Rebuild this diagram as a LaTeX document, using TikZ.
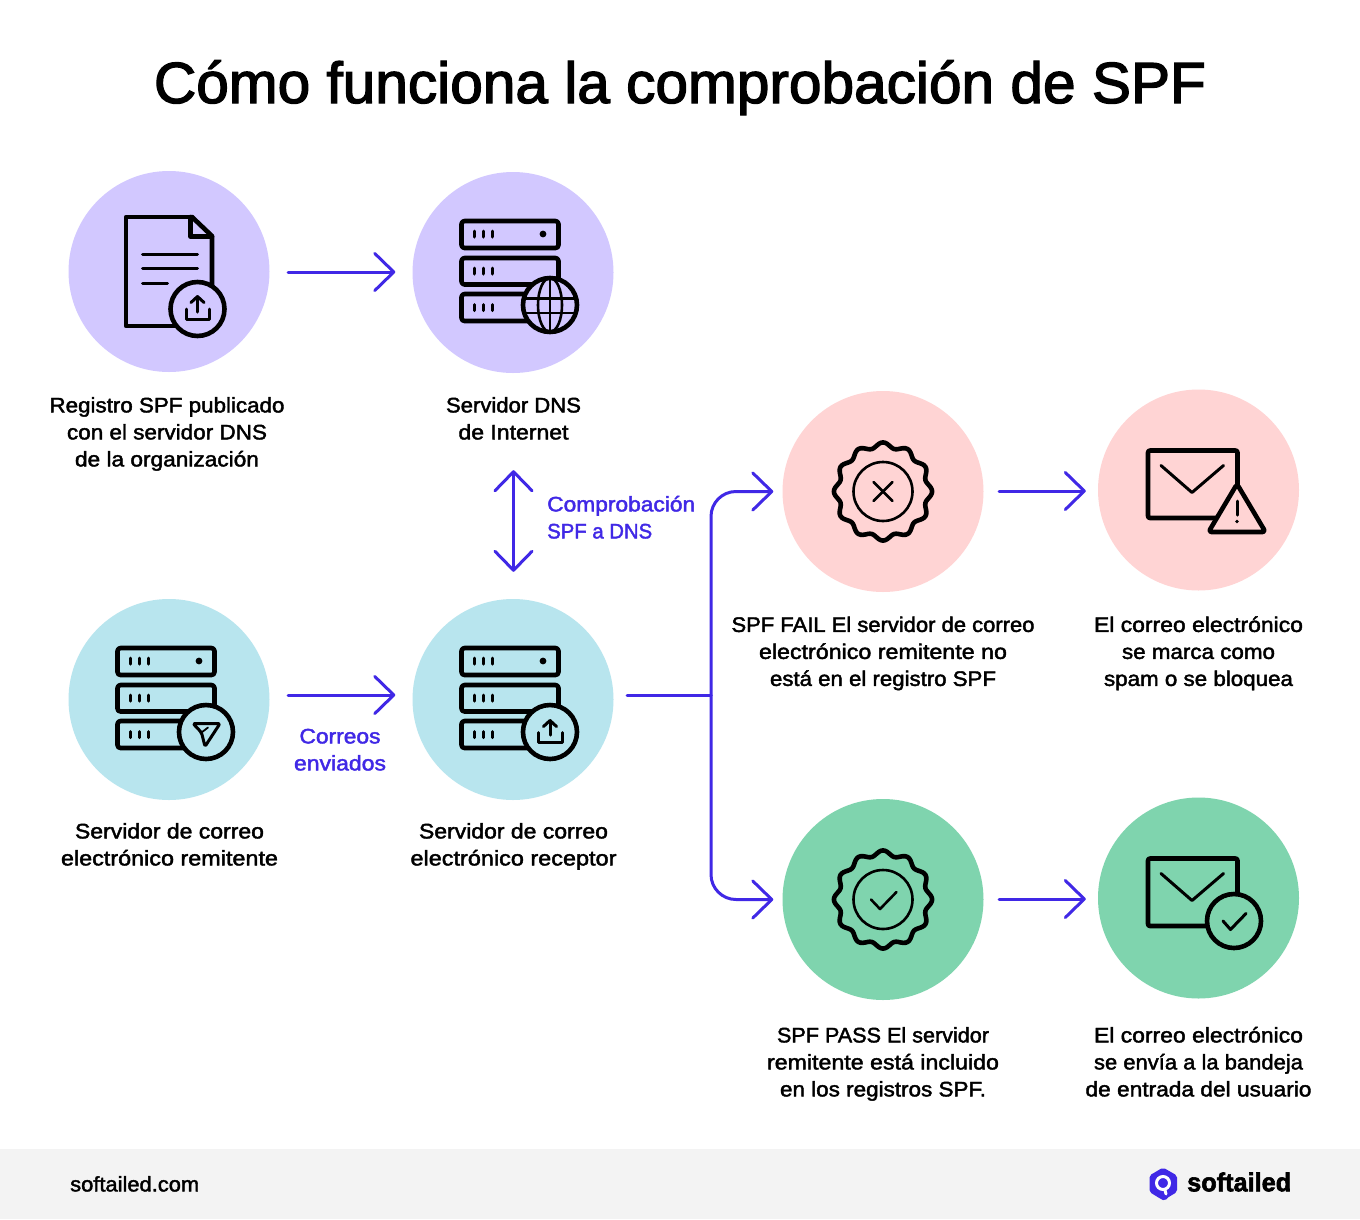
\documentclass[tikz,border=0pt]{standalone}
\usepackage{graphicx}
\usepackage{fontspec}
\setmainfont{Liberation Sans}
\newfontfamily\labelfont{Liberation Sans}
\newfontfamily\logofont{Liberation Sans Bold}
\usetikzlibrary{arrows.meta}
\newcommand\fw[2]{\strut\resizebox{#1pt}{\height}{#2}}
\newcommand\heavy[1]{\special{pdf:code 2 Tr #1 w}}
\newcommand\plainface{\special{pdf:code 0 Tr}}
\definecolor{ink}{HTML}{000000}
\definecolor{accent}{HTML}{4028E6}
\definecolor{lilac}{HTML}{D2C8FF}
\definecolor{sky}{HTML}{B8E5EE}
\definecolor{rose}{HTML}{FFD4D4}
\definecolor{mint}{HTML}{7FD4AE}
\definecolor{band}{HTML}{F3F3F3}
\tikzset{
  x=1pt,y=-1pt,
  disc/.style={circle,minimum size=201pt,inner sep=0pt,draw=none},
  weighted/.style={execute at begin node={\heavy{#1}},execute at end node={\plainface}},
  lbl/.style={font=\labelfont\fontsize{21}{27}\selectfont,align=center,inner sep=0pt,text=ink,weighted=0.4},
  acc/.style={font=\labelfont\fontsize{21}{27}\selectfont,inner sep=0pt,text=accent,weighted=0.4},
  conn/.style={draw=accent,line width=3pt,line cap=round,line join=round},
  tip/.style={-{Straight Barb[length=19pt,width=37pt,line width=3pt,round]}},
  duo/.style={{Straight Barb[length=19pt,width=37pt,line width=3pt,round]}-{Straight Barb[length=19pt,width=37pt,line width=3pt,round]}},
  icon/.style={draw=ink,line width=4.6pt,line join=round,line cap=round},
  thin icon/.style={draw=ink,line width=3pt,line join=round,line cap=round},
  fine icon/.style={draw=ink,line width=2.6pt,line join=round,line cap=round},
  serverpic/.pic={
    \foreach \ya/\yb in {-51.5/-24.5,-14.5/12,21.5/48.5}{
      \draw[icon,rounded corners=3pt] (-51.5,\ya) rectangle (45.5,\yb);
    }
    \foreach \yc in {-38.5,-1.5,35}{
      \foreach \xc in {-39,-30,-21}{
        \draw[thin icon] (\xc,\yc-3) -- (\xc,\yc+3);
      }
    }
    \fill[ink] (30,-38.5) circle (3.4);
  },
  sealpic/.pic={
    \draw[icon] plot[domain=0:360,samples=145,smooth cycle] (\x:{46.5+2.6*cos(12*\x)});
    \draw[fine icon] (0,0) circle (29.5);
  },
  envpic/.pic={
    \draw[icon,rounded corners=2pt] (-50.5,-39.5) rectangle (39,28);
    \draw[thin icon] (-37.5,-24.5) -- (-6.5,2.5) -- (25,-24.5);
  }
}
\begin{document}
\begin{tikzpicture}
\useasboundingbox (0,0) rectangle (1360,1219);
\fill[white] (0,0) rectangle (1360,1219);
\fill[band] (0,1149) rectangle (1360,1219);

\node[font=\labelfont\fontsize{58}{66}\selectfont,inner sep=0pt,text=ink,anchor=base,weighted=1.3] (title) at (680,103) {\resizebox{1052pt}{\height}{Cómo funciona la comprobación de SPF}};

\node[disc,fill=lilac] (c1) at (169,271.5) {};
\node[disc,fill=lilac] (c2) at (513,272.5) {};
\node[disc,fill=sky] (c3) at (169,699.5) {};
\node[disc,fill=sky] (c4) at (513,699.5) {};
\node[disc,fill=rose] (c5) at (883,491.5) {};
\node[disc,fill=rose] (c6) at (1198.5,490) {};
\node[disc,fill=mint] (c7) at (883,899.5) {};
\node[disc,fill=mint] (c8) at (1198.5,898) {};

% document icon
\draw[icon] (192,217) -- (126,217) -- (126,326) -- (180,326);
\draw[icon] (192,217) -- (212,236) -- (212,290);
\draw[icon] (190.5,217) -- (190.5,236.5) -- (212,236.5);
\draw[thin icon] (142.5,254.5) -- (197.5,254.5);
\draw[thin icon] (142.5,268.5) -- (197.5,268.5);
\draw[thin icon] (142.5,283.5) -- (167.5,283.5);
\draw[icon,fill=lilac] (197.5,309) circle (27);
\draw[thin icon] (186,309) -- (186,319) -- (209,319) -- (209,309);
\draw[thin icon] (197.5,312) -- (197.5,296.5);
\draw[thin icon] (191,302.5) -- (197.5,296.5) -- (204,302.5);

% DNS server
\pic at (c2.center) {serverpic};
\draw[icon,fill=lilac] (550,305) circle (27);
\draw[fine icon] (550,278) -- (550,332);
\draw[fine icon] (550,305) ellipse (12 and 27);
\draw[fine icon] (526,298.5) -- (574,298.5);
\draw[fine icon] (526,313) -- (574,313);

% sending server
\pic at (c3.center) {serverpic};
\draw[icon,fill=sky] (206,732) circle (27);
\draw[thin icon,rounded corners=2pt] (193,723.5) -- (220,723.5) -- (205,746.5) -- (201.5,732.5) -- cycle;
\draw[thin icon,line width=1.8pt] (201.5,732.5) -- (208,727.5);

% receiving server
\pic at (c4.center) {serverpic};
\draw[icon,fill=sky] (550,732) circle (27);
\draw[thin icon] (538.5,732.5) -- (538.5,742.5) -- (562.5,742.5) -- (562.5,732.5);
\draw[thin icon] (550,735) -- (550,720.5);
\draw[thin icon] (543.5,726.5) -- (550,720.5) -- (556.5,726.5);

% seals
\pic at (c5.center) {sealpic};
\draw[fine icon] (873.5,482) -- (892.5,501);
\draw[fine icon] (892.5,482) -- (873.5,501);
\pic at (c7.center) {sealpic};
\draw[fine icon] (871,899.5) -- (880,909) -- (896.5,892);

% envelopes
\pic at (c6.center) {envpic};
\draw[icon,fill=rose,rounded corners=3pt] (1237,484) -- (1265.5,532) -- (1208.5,532) -- cycle;
\draw[thin icon] (1237,501) -- (1237,515);
\fill[ink] (1237,521.5) circle (1.8);
\pic at (c8.center) {envpic};
\draw[icon,fill=mint] (1234,921) circle (27);
\draw[thin icon] (1223,921) -- (1230.5,929.5) -- (1246,913.5);

% connectors
\draw[conn,tip] ([shift={(18.5pt,-0.5pt)}]c1.east) -- ([shift={(-17pt,0.5pt)}]c2.west);
\draw[conn,duo] ([shift={(0.5pt,-97pt)}]c2.south) -- ([shift={(0.5pt,27pt)}]c4.north);
\draw[conn,tip] ([shift={(18.5pt,4.5pt)}]c3.east) -- ([shift={(-17pt,4.5pt)}]c4.west);
\coordinate (bus) at (711,695);
\draw[conn] ([shift={(13.5pt,4.5pt)}]c4.east) -- (bus);
\draw[conn,tip,rounded corners=25pt] (bus) |- ([xshift=-9pt]c5.west);
\draw[conn,tip,rounded corners=25pt] (bus) |- ([xshift=-9pt]c7.west);
\draw[conn,tip] ([shift={(15.5pt,0.5pt)}]c5.east) -- ([shift={(-12pt,-1pt)}]c6.west);
\draw[conn,tip] ([shift={(15.5pt,0.5pt)}]c7.east) -- ([shift={(-12pt,-1pt)}]c8.west);

% labels
\node[lbl] (t1) at (167,434) {\fw{235}{Registro SPF publicado}\\\fw{200}{con el servidor DNS}\\\fw{184}{de la organización}};
\node[lbl] (t2) at (513.5,420.5) {\fw{135}{Servidor DNS}\\\fw{110}{de Internet}};
\node[lbl] (t3) at (169.5,846.5) {\fw{189}{Servidor de correo}\\\fw{217}{electrónico remitente}};
\node[lbl] (t4) at (513.5,846.5) {\fw{189}{Servidor de correo}\\\fw{206}{electrónico receptor}};
\node[lbl] (t5) at (883,653.5) {\fw{303}{SPF FAIL El servidor de correo}\\\fw{248}{electrónico remitente no}\\\fw{226}{está en el registro SPF}};
\node[lbl] (t6) at (1198.5,653.5) {\fw{209}{El correo electrónico}\\\fw{153}{se marca como}\\\fw{189}{spam o se bloquea}};
\node[lbl] (t7) at (883,1064) {\fw{212}{SPF PASS El servidor}\\\fw{232}{remitente está incluido}\\\fw{206}{en los registros SPF.}};
\node[lbl] (t8) at (1198.5,1064) {\fw{209}{El correo electrónico}\\\fw{209}{se envía a la bandeja}\\\fw{226}{de entrada del usuario}};
\node[acc,align=left,anchor=west] (t9) at (547,519.5) {\fw{148}{Comprobación}\\\fw{105}{SPF a DNS}};
\node[acc,align=center] (t10) at (340,751.5) {\fw{81}{Correos}\\\fw{92}{enviados}};
\node[lbl,anchor=west] (t11) at (70,1186) {\fw{129}{softailed.com}};

% logo
\fill[accent,rounded corners=2pt] (1163,1167.5) -- (1177,1175.5) -- (1177,1192) -- (1167,1198) -- (1165,1201) -- (1160,1198.5) -- (1149.5,1192) -- (1149.5,1175.5) -- cycle;
\draw[white,line width=3pt] (1163,1183) circle (6.5);
\draw[white,line width=3pt,line cap=round] (1165,1190) -- (1166,1194);
\node[font=\logofont\fontsize{26}{30}\selectfont,inner sep=0pt,anchor=west,text=ink,weighted=0.6] (brand) at (1187,1182) {\resizebox{104pt}{\height}{softailed}};
\end{tikzpicture}
\end{document}
